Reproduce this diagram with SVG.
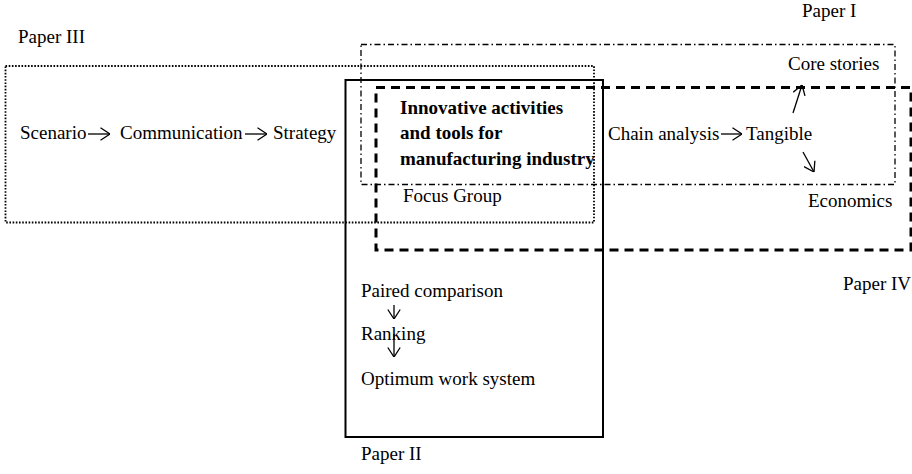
<svg xmlns="http://www.w3.org/2000/svg" width="912" height="474" viewBox="0 0 912 474">
  <defs>
    <marker id="open" viewBox="0 0 10 14" refX="10" refY="7" markerWidth="10" markerHeight="14" markerUnits="userSpaceOnUse" orient="auto">
      <path d="M0.5,0.8 L10,7 L0.5,13.2" fill="none" stroke="#000" stroke-width="1.3"/>
    </marker>
  </defs>
  <style>
    text { font-family: "Liberation Serif", "Times New Roman", serif; font-size: 19px; fill: #000; }
    .bold { font-weight: bold; }
    .box { fill: none; stroke: #000; }
    .dotted { stroke-width: 1.8; stroke-dasharray: 1.6 1.6; }
    .solid { stroke-width: 2; }
    .dashdot { stroke-width: 1.3; stroke-dasharray: 6 3 1.5 3; }
    .dashed { stroke-width: 3; stroke-dasharray: 9 6; }
    .arrow { fill: none; stroke: #000; stroke-width: 1.3; marker-end: url(#open); }
  </style>
  <rect width="912" height="474" fill="#fff"/>

  <!-- Paper III: scenario work -->
  <g id="paper3">
    <rect class="box dotted" x="5.5" y="66" width="588.5" height="156.5"/>
    <text x="18" y="43">Paper III</text>
    <text x="20" y="139">Scenario</text>
    <text x="120" y="139">Communication</text>
    <text x="273" y="139">Strategy</text>
  </g>

  <!-- Paper II: work system evaluation -->
  <g id="paper2">
    <rect class="box solid" x="345.5" y="80" width="257.5" height="357"/>
    <text x="361" y="297">Paired comparison</text>
    <text x="361" y="340">Ranking</text>
    <text x="361" y="385">Optimum work system</text>
    <text x="361" y="460">Paper II</text>
  </g>

  <!-- Paper I: core stories -->
  <g id="paper1">
    <rect class="box dashdot" x="361" y="44.5" width="534" height="140"/>
    <text x="802" y="17">Paper I</text>
    <text x="788" y="70">Core stories</text>
  </g>

  <!-- Paper IV: chain analysis -->
  <g id="paper4">
    <rect class="box dashed" x="376" y="87.5" width="535" height="162.5"/>
    <text x="608" y="140">Chain analysis</text>
    <text x="746" y="140">Tangible</text>
    <text x="808" y="207">Economics</text>
    <text x="843" y="290">Paper IV</text>
  </g>

  <!-- Central theme -->
  <g id="theme">
    <text class="bold" x="400" y="114">Innovative activities</text>
    <text class="bold" x="400" y="139">and tools for</text>
    <text class="bold" x="400" y="165">manufacturing industry</text>
    <text x="403" y="202">Focus Group</text>
  </g>

  <g id="connectors">
    <line class="arrow" x1="88" y1="134" x2="110" y2="134"/>
    <line class="arrow" x1="245" y1="134" x2="267" y2="134"/>
    <line class="arrow" x1="721" y1="134" x2="742" y2="134"/>
    <line class="arrow" x1="793" y1="113" x2="802" y2="85"/>
    <line class="arrow" x1="803" y1="152" x2="814" y2="172"/>
    <line class="arrow" x1="394" y1="305" x2="394" y2="319"/>
    <line class="arrow" x1="394" y1="334" x2="394" y2="357"/>
  </g>
</svg>
